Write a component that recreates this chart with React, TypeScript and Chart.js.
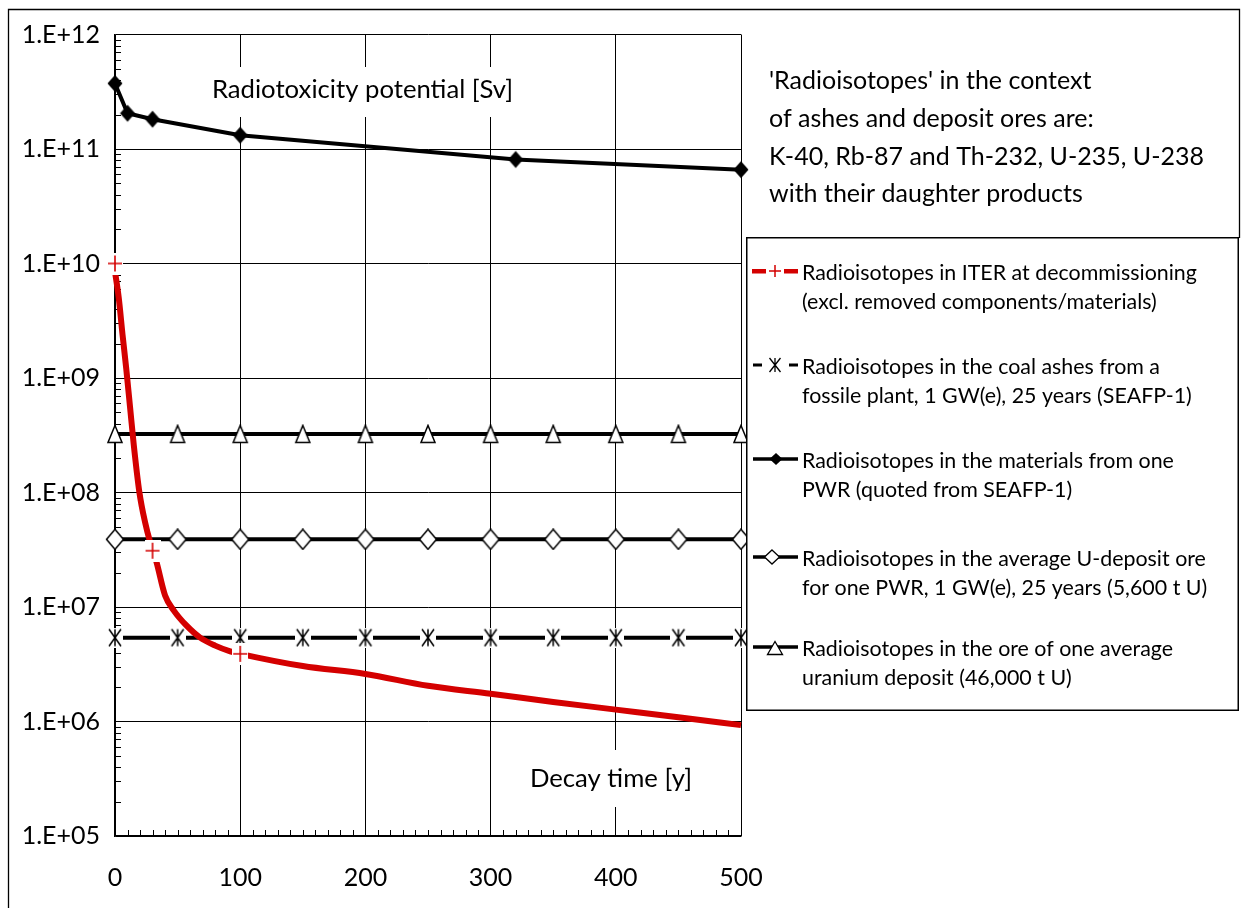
import { useEffect, useRef } from 'react';
import { Chart, registerables } from 'chart.js';

Chart.register(...registerables);

const FONT = 'Lato, "Open Sans", sans-serif';
const RED = '#d40000';

// ---- data ----
const iterCurveYears = [0, 3, 6, 9, 12, 15, 19.5, 24, 28, 33, 40, 47, 57, 68, 80, 92, 100, 150, 200, 250, 300, 350, 400, 450, 500];
const iterCurveValues = [8.5e9, 5.0e9, 2.4e9, 1.2e9, 5.6e8, 2.6e8, 1.0e8, 5.5e7, 3.7e7, 2.5e7, 1.26e7, 9.3e6, 6.9e6, 5.4e6, 4.6e6, 4.1e6, 3.9e6, 3.05e6, 2.6e6, 2.05e6, 1.75e6, 1.48e6, 1.27e6, 1.09e6, 9.3e5];
const iterMarkerYears = [0, 30, 100];
const iterMarkerValues = [1.0e10, 3.1e7, 3.9e6];
const pwrYears = [0, 10, 30, 100, 320, 500];
const pwrValues = [3.74e11, 2.05e11, 1.82e11, 1.32e11, 8.1e10, 6.6e10];
const flatYears = [0, 50, 100, 150, 200, 250, 300, 350, 400, 450, 500];
const coalAshValues = [5.4e6, 5.4e6, 5.4e6, 5.4e6, 5.4e6, 5.4e6, 5.4e6, 5.4e6, 5.4e6, 5.4e6, 5.4e6];
const uOrePwrValues = [3.9e7, 3.9e7, 3.9e7, 3.9e7, 3.9e7, 3.9e7, 3.9e7, 3.9e7, 3.9e7, 3.9e7, 3.9e7];
const uDepositValues = [3.25e8, 3.25e8, 3.25e8, 3.25e8, 3.25e8, 3.25e8, 3.25e8, 3.25e8, 3.25e8, 3.25e8, 3.25e8];
const yTickValues = [1e5, 1e6, 1e7, 1e8, 1e9, 1e10, 1e11, 1e12];
const xTickStep = 100;
const yTitle = 'Radiotoxicity potential [Sv]';
const xTitle = 'Decay time [y]';
const noteLines = [
  "'Radioisotopes' in the context",
  'of ashes and deposit ores are:',
  'K-40, Rb-87 and Th-232, U-235, U-238',
  'with their daughter products',
];
const legendLines = [
  ['Radioisotopes in ITER at decommissioning', '(excl. removed components/materials)'],
  ['Radioisotopes in the coal ashes from a', 'fossile plant, 1 GW(e), 25 years (SEAFP-1)'],
  ['Radioisotopes in the materials from one', 'PWR (quoted from SEAFP-1)'],
  ['Radioisotopes in the average U-deposit ore', 'for one PWR, 1 GW(e), 25 years (5,600 t U)'],
  ['Radioisotopes in the ore of one average', 'uranium deposit (46,000 t U)'],
];

type Kind = 'plus' | 'asterisk' | 'diamondFilled' | 'diamondOpen' | 'triangleOpen';

function drawMarker(ctx: CanvasRenderingContext2D, kind: Kind, cx: number, cy: number, w: number, h: number, lw: number) {
  ctx.save();
  ctx.lineWidth = lw;
  ctx.strokeStyle = '#000';
  ctx.beginPath();
  if (kind === 'plus') {
    ctx.strokeStyle = RED;
    ctx.moveTo(cx - w / 2, cy);
    ctx.lineTo(cx + w / 2, cy);
    ctx.moveTo(cx, cy - h / 2);
    ctx.lineTo(cx, cy + h / 2);
    ctx.stroke();
  } else if (kind === 'asterisk') {
    ctx.moveTo(cx - w / 2, cy - h / 2);
    ctx.lineTo(cx + w / 2, cy + h / 2);
    ctx.moveTo(cx + w / 2, cy - h / 2);
    ctx.lineTo(cx - w / 2, cy + h / 2);
    ctx.moveTo(cx, cy - h / 2);
    ctx.lineTo(cx, cy + h / 2);
    ctx.stroke();
  } else if (kind === 'diamondFilled' || kind === 'diamondOpen') {
    ctx.moveTo(cx, cy - h / 2);
    ctx.lineTo(cx + w / 2, cy);
    ctx.lineTo(cx, cy + h / 2);
    ctx.lineTo(cx - w / 2, cy);
    ctx.closePath();
    if (kind === 'diamondFilled') {
      ctx.fillStyle = '#000';
      ctx.fill();
    } else {
      ctx.fillStyle = '#fff';
      ctx.fill();
      ctx.stroke();
    }
  } else {
    ctx.moveTo(cx, cy - h / 2);
    ctx.lineTo(cx + w / 2, cy + h / 2);
    ctx.lineTo(cx - w / 2, cy + h / 2);
    ctx.closePath();
    ctx.fillStyle = '#fff';
    ctx.fill();
    ctx.stroke();
  }
  ctx.restore();
}

function makeMarker(kind: Kind, cw: number, ch: number, w: number, h: number, lw: number, bg: boolean) {
  const c = document.createElement('canvas');
  c.width = cw;
  c.height = ch;
  const g = c.getContext('2d') as CanvasRenderingContext2D;
  if (bg) {
    g.fillStyle = '#fff';
    g.fillRect(0, 0, cw, ch);
  }
  drawMarker(g, kind, cw / 2, ch / 2, w, h, lw);
  return c;
}

const xy = (xs: number[], ys: number[]) => xs.map((x, i) => ({ x, y: ys[i] }));

export default function App() {
  const ref = useRef<HTMLCanvasElement | null>(null);

  useEffect(() => {
    document.body.style.margin = '0';
    const canvas = ref.current;
    if (!canvas) return;

    const mPlus = makeMarker('plus', 16, 22, 14, 16, 1.6, true);
    const mAst = makeMarker('asterisk', 16, 20, 12, 17, 1.5, true);
    const mDiaF = makeMarker('diamondFilled', 18, 20, 15, 17, 1, false);
    const mDiaO = makeMarker('diamondOpen', 20, 22, 17, 20, 1.5, false);
    const mTri = makeMarker('triangleOpen', 18, 20, 14, 17, 1.5, false);

    const decor = {
      id: 'decor',
      beforeDatasetsDraw(chart: any) {
        const { ctx, chartArea: a, scales } = chart;
        const x = scales.x;
        const y = scales.y;
        ctx.save();
        // minor ticks
        ctx.strokeStyle = '#000';
        ctx.lineWidth = 1;
        ctx.beginPath();
        for (let e = 5; e < 12; e++) {
          for (let k = 2; k <= 9; k++) {
            const py = Math.round(y.getPixelForValue(k * Math.pow(10, e))) + 0.5;
            ctx.moveTo(a.left, py);
            ctx.lineTo(a.left + 6, py);
          }
        }
        for (let v = 10; v < 500; v += 10) {
          if (v % 100 === 0) continue;
          const px = Math.round(x.getPixelForValue(v)) + 0.5;
          ctx.moveTo(px, a.bottom);
          ctx.lineTo(px, a.bottom - 6);
        }
        ctx.stroke();
        // in-plot titles with white boxes
        ctx.font = `25.7px ${FONT}`;
        ctx.textBaseline = 'alphabetic';
        ctx.textAlign = 'center';
        const t1w = ctx.measureText(yTitle).width;
        const c1 = 362.5;
        ctx.fillStyle = '#fff';
        ctx.fillRect(c1 - t1w / 2 - 9, 67, t1w + 18, 50);
        ctx.fillStyle = '#000';
        ctx.fillText(yTitle, c1, 98);
        const t2w = ctx.measureText(xTitle).width;
        const c2 = 611;
        ctx.fillStyle = '#fff';
        ctx.fillRect(c2 - t2w / 2 - 10, 750, t2w + 20, 57);
        ctx.fillStyle = '#000';
        ctx.fillText(xTitle, c2, 786.5);
        ctx.restore();
      },
      afterDraw(chart: any) {
        const { ctx } = chart;
        ctx.save();
        // outer frame
        ctx.strokeStyle = '#000';
        ctx.lineWidth = 1.3;
        ctx.beginPath();
        ctx.moveTo(8.5, 908);
        ctx.lineTo(8.5, 9.5);
        ctx.lineTo(1239.5, 9.5);
        ctx.lineTo(1239.5, 238);
        ctx.stroke();
        // note
        ctx.fillStyle = '#000';
        ctx.font = `25px ${FONT}`;
        ctx.textAlign = 'left';
        ctx.textBaseline = 'alphabetic';
        const noteBase = [89, 127, 165, 202];
        noteLines.forEach((t, i) => ctx.fillText(t, 769, noteBase[i]));
        // legend box
        ctx.fillStyle = '#fff';
        ctx.fillRect(747, 238, 491, 472);
        ctx.lineWidth = 1.5;
        ctx.strokeStyle = '#000';
        ctx.strokeRect(746.75, 237.75, 491.5, 472.5);
        const base = [280, 374, 468, 566, 656];
        ctx.font = `21.4px ${FONT}`;
        ctx.fillStyle = '#000';
        legendLines.forEach((lines, i) => {
          ctx.fillText(lines[0], 802, base[i]);
          ctx.fillText(lines[1], 802, base[i] + 29);
        });
        // legend symbols
        base.forEach((b, i) => {
          const sy = b - 9;
          if (i === 0) {
            ctx.fillStyle = RED;
            ctx.fillRect(752, sy - 2, 14, 4.5);
            ctx.fillRect(784, sy - 2, 14, 4.5);
            drawMarker(ctx, 'plus', 775, sy, 12, 12, 1.5);
          } else if (i === 1) {
            ctx.fillStyle = '#000';
            ctx.fillRect(753, sy - 1.5, 9, 3);
            ctx.fillRect(789, sy - 1.5, 9, 3);
            drawMarker(ctx, 'asterisk', 775, sy, 11, 14, 1.3);
          } else {
            ctx.fillStyle = '#000';
            ctx.fillRect(753, sy - 1.75, 45, 3.5);
            if (i === 2) drawMarker(ctx, 'diamondFilled', 776, sy, 13, 12, 1);
            if (i === 3) drawMarker(ctx, 'diamondOpen', 772, sy, 15, 14, 1.3);
            if (i === 4) drawMarker(ctx, 'triangleOpen', 775, sy + 1, 15, 13, 1.3);
          }
        });
        ctx.restore();
      },
    };

    const chart = new Chart(canvas, {
      type: 'line',
      data: {
        datasets: [
          {
            label: 'ITER markers',
            data: xy(iterMarkerYears, iterMarkerValues),
            showLine: false,
            pointStyle: mPlus as any,
            pointRadius: 8,
            borderColor: RED,
            backgroundColor: RED,
            order: 0,
            clip: false as any,
          },
          {
            label: legendLines[0][0],
            data: xy(iterCurveYears, iterCurveValues),
            borderColor: RED,
            borderWidth: 6,
            pointRadius: 0,
            cubicInterpolationMode: 'monotone',
            order: 1,
            clip: false as any,
          },
          {
            label: legendLines[1][0],
            data: xy(flatYears, coalAshValues),
            borderColor: '#000',
            borderWidth: 4,
            pointStyle: mAst as any,
            pointRadius: 8,
            order: 2,
            clip: false as any,
          },
          {
            label: legendLines[2][0],
            data: xy(pwrYears, pwrValues),
            borderColor: '#000',
            borderWidth: 4,
            pointStyle: mDiaF as any,
            pointRadius: 8,
            order: 3,
            clip: false as any,
          },
          {
            label: legendLines[3][0],
            data: xy(flatYears, uOrePwrValues),
            borderColor: '#000',
            borderWidth: 4,
            pointStyle: mDiaO as any,
            pointRadius: 9,
            order: 4,
            clip: false as any,
          },
          {
            label: legendLines[4][0],
            data: xy(flatYears, uDepositValues),
            borderColor: '#000',
            borderWidth: 4,
            pointStyle: mTri as any,
            pointRadius: 9,
            order: 5,
            clip: false as any,
          },
        ],
      },
      options: {
        responsive: false,
        animation: false,
        events: [],
        layout: { padding: { left: 0, right: 503, top: 34.5, bottom: 0 } },
        plugins: { legend: { display: false }, tooltip: { enabled: false } },
        scales: {
          x: {
            type: 'linear',
            min: 0,
            max: 500,
            ticks: { stepSize: xTickStep, color: '#000', font: { family: FONT, size: 25 }, padding: 27, maxRotation: 0 },
            grid: { color: '#000', lineWidth: 1, drawTicks: false },
            border: { color: '#000', width: 1.5 },
            afterFit: (s: any) => {
              s.height = 72;
            },
          },
          y: {
            type: 'logarithmic',
            min: yTickValues[0],
            max: yTickValues[yTickValues.length - 1],
            afterBuildTicks: (s: any) => {
              s.ticks = yTickValues.map((v) => ({ value: v }));
            },
            ticks: {
              color: '#000',
              font: { family: FONT, size: 25 },
              padding: 15,
              callback: (v: any) => '1.E+' + String(Math.round(Math.log10(Number(v)))).padStart(2, '0'),
            },
            grid: { color: '#000', lineWidth: 1, drawTicks: false },
            border: { color: '#000', width: 1.5 },
            afterFit: (s: any) => {
              s.width = 115;
            },
          },
        },
      },
      plugins: [decor],
    } as any);

    return () => chart.destroy();
  }, []);

  return (
    <div style={{ width: 1244, height: 908, position: 'relative', background: '#fff' }}>
      <canvas ref={ref} width={1244} height={908} style={{ display: 'block' }} />
    </div>
  );
}
